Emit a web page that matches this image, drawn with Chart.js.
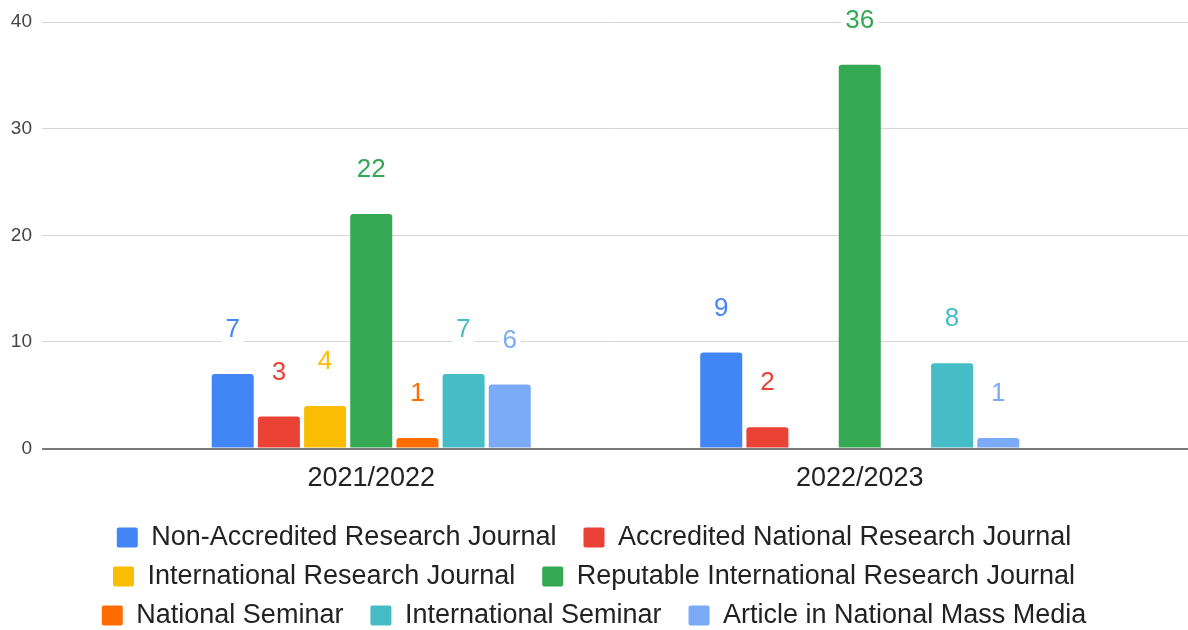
<!DOCTYPE html>
<html>
<head>
<meta charset="utf-8">
<style>
  html, body { margin: 0; padding: 0; background: #ffffff; }
  #wrap { width: 1188px; height: 630px; position: relative; }
</style>
<script src="https://cdn.jsdelivr.net/npm/chart.js@4.4.1/dist/chart.umd.min.js"></script>
</head>
<body>
<div id="wrap"><canvas id="c" width="1188" height="630"></canvas></div>
<script>
const categories = ['2021/2022', '2022/2023'];
const seriesNames = [
  'Non-Accredited Research Journal',
  'Accredited National Research Journal',
  'International Research Journal',
  'Reputable International Research Journal',
  'National Seminar',
  'International Seminar',
  'Article in National Mass Media'
];
const nonAccredited = [7, 9];
const accreditedNational = [3, 2];
const internationalJournal = [4, null];
const reputableInternational = [22, 36];
const nationalSeminar = [1, null];
const internationalSeminar = [7, 8];
const massMedia = [6, 1];
const seriesValues = [nonAccredited, accreditedNational, internationalJournal, reputableInternational, nationalSeminar, internationalSeminar, massMedia];
const seriesColors = ['#4285F4', '#EA4335', '#FBBC04', '#34A853', '#FF6D01', '#46BDC6', '#7BAAF7'];
const yTicks = [0, 10, 20, 30, 40];

const FONT = '"Liberation Sans", Arial, Helvetica, sans-serif';

const dataLabels = {
  id: 'dataLabels',
  afterDatasetsDraw(chart) {
    const ctx = chart.ctx;
    ctx.save();
    ctx.font = '26px ' + FONT;
    ctx.textAlign = 'center';
    ctx.textBaseline = 'middle';
    chart.data.datasets.forEach((ds, i) => {
      const meta = chart.getDatasetMeta(i);
      meta.data.forEach((bar, j) => {
        const v = ds.data[j];
        if (v === null || v === undefined) return;
        const txt = String(v);
        const w = ctx.measureText(txt).width;
        const y = bar.y - 44;
        ctx.fillStyle = '#ffffff';
        ctx.fillRect(bar.x - w / 2 - 4, y - 14, w + 8, 28);
        ctx.fillStyle = ds.backgroundColor;
        ctx.fillText(txt, bar.x, y);
      });
    });
    ctx.restore();
  }
};

const gridColor = (c) => (c.tick && c.tick.value === 0) ? '#7a7a7a' : '#d6d6d6';
const gridWidth = (c) => (c.tick && c.tick.value === 0) ? 2 : 1;

new Chart(document.getElementById('c'), {
  type: 'bar',
  data: {
    labels: categories,
    datasets: seriesNames.map((name, i) => ({
      label: name,
      data: seriesValues[i],
      backgroundColor: seriesColors[i],
      borderWidth: 0,
      borderRadius: 3,
      categoryPercentage: 0.6616,
      barPercentage: 0.91
    }))
  },
  options: {
    responsive: false,
    animation: false,
    devicePixelRatio: 1,
    layout: { padding: { top: 22, left: 0, right: -15, bottom: -9 } },
    scales: {
      x: {
        grid: { display: false, drawTicks: false },
        border: { display: false },
        afterFit: (s) => { s.height += 3; },
        ticks: { color: '#222222', font: { family: FONT, size: 27 }, padding: 14 }
      },
      y: {
        min: 0, max: 40,
        afterBuildTicks: (s) => { s.ticks = yTicks.map(v => ({ value: v })); },
        afterFit: (s) => { s.width = 127; },
        grid: { color: gridColor, lineWidth: gridWidth, drawTicks: true, tickLength: 85 },
        border: { display: false },
        ticks: { color: '#444444', font: { family: FONT, size: 19 }, padding: 10 }
      },
      yr: {
        position: 'right',
        min: 0, max: 40,
        afterBuildTicks: (s) => { s.ticks = yTicks.map(v => ({ value: v })); },
        afterFit: (s) => { s.width = 99; },
        grid: { color: gridColor, lineWidth: gridWidth, drawOnChartArea: false, drawTicks: true, tickLength: 84 },
        border: { display: false },
        ticks: { display: false }
      }
    },
    plugins: {
      tooltip: { enabled: false },
      legend: {
        position: 'bottom',
        labels: {
          color: '#222222',
          font: { family: FONT, size: 27 },
          boxWidth: 21,
          boxHeight: 20,
          useBorderRadius: true,
          borderRadius: 2,
          padding: 12,
          generateLabels: (chart) => {
            const items = Chart.defaults.plugins.legend.labels.generateLabels(chart);
            items.forEach(it => { it.text = it.text + '  '; it.lineWidth = 0; });
            return items;
          }
        }
      }
    }
  },
  plugins: [dataLabels]
});
</script>
</body>
</html>
